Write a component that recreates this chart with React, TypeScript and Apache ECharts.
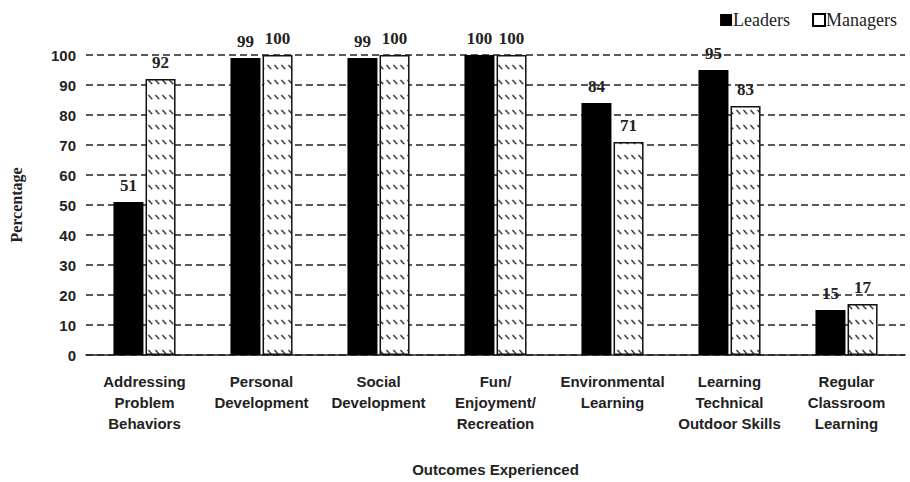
import React, { useEffect, useRef } from "react";
import * as echarts from "echarts";

const categories = [
  "Addressing\nProblem\nBehaviors",
  "Personal\nDevelopment",
  "Social\nDevelopment",
  "Fun/\nEnjoyment/\nRecreation",
  "Environmental\nLearning",
  "Learning\nTechnical\nOutdoor Skills",
  "Regular\nClassroom\nLearning",
];
const leaders = [51, 99, 99, 100, 84, 95, 15];
const managers = [92, 100, 100, 100, 71, 83, 17];
const yTicks = { min: 0, max: 100, interval: 10 };

function makeHatch(): HTMLCanvasElement {
  const s = 3;
  const c = document.createElement("canvas");
  c.width = 7 * s;
  c.height = 15 * s;
  const ctx = c.getContext("2d")!;
  ctx.fillStyle = "#ffffff";
  ctx.fillRect(0, 0, c.width, c.height);
  ctx.strokeStyle = "#222222";
  ctx.lineWidth = 1.3 * s;
  ctx.beginPath();
  ctx.moveTo(1.5 * s, 5 * s);
  ctx.lineTo(5 * s, 9 * s);
  ctx.stroke();
  return c;
}

export default function App() {
  const ref = useRef<HTMLDivElement>(null);
  useEffect(() => {
    if (!ref.current) return;
    const chart = echarts.init(ref.current, null, { renderer: "svg" });
    const hatch = {
      image: makeHatch(),
      repeat: "repeat",
      imageWidth: 7,
      imageHeight: 15,
    } as any;
    const labelStyle = {
      show: true,
      position: "top" as const,
      distance: 8,
      fontFamily: "Liberation Serif",
      fontWeight: "bold" as const,
      fontSize: 17,
      color: "#222",
    };
    chart.setOption({
      animation: false,
      backgroundColor: "#fff",
      grid: { left: 83, right: 5, top: 55, bottom: 126, containLabel: false },
      legend: {
        right: 8,
        top: 6,
        itemWidth: 12,
        itemHeight: 12,
        itemGap: 22,
        textStyle: { fontFamily: "Liberation Serif", fontSize: 18, color: "#222", padding: [0, 0, 0, -4] },
        data: [
          { name: "Leaders", icon: "rect", itemStyle: { color: "#000" } },
          {
            name: "Managers",
            icon: "rect",
            itemStyle: { color: "#fff", borderColor: "#000", borderWidth: 2 },
          },
        ],
      },
      xAxis: {
        type: "category",
        data: categories,
        name: "Outcomes Experienced",
        nameLocation: "middle",
        nameGap: 107,
        nameTextStyle: { fontFamily: "Liberation Sans", fontWeight: "bold", fontSize: 15, color: "#222" },
        axisLine: { show: true, lineStyle: { color: "#222", width: 1.5 } },
        axisTick: { show: false },
        axisLabel: {
          interval: 0,
          margin: 16,
          fontFamily: "Liberation Sans",
          fontWeight: "bold",
          fontSize: 15,
          lineHeight: 21,
          color: "#222",
        },
      },
      yAxis: {
        type: "value",
        min: yTicks.min,
        max: yTicks.max,
        interval: yTicks.interval,
        name: "Percentage",
        nameLocation: "middle",
        nameGap: 62,
        nameTextStyle: { fontFamily: "Liberation Serif", fontWeight: "bold", fontSize: 16, color: "#222" },
        axisLine: { show: false },
        axisTick: { show: false },
        axisLabel: {
          margin: 10,
          fontFamily: "Liberation Sans",
          fontWeight: "bold",
          fontSize: 15,
          color: "#222",
        },
        splitLine: {
          show: true,
          lineStyle: { color: "#222", type: [7, 4], width: 1.5 },
        },
      },
      series: [
        {
          name: "Leaders",
          type: "bar",
          data: leaders,
          barWidth: 30,
          barGap: "7%",
          itemStyle: { color: "#000" },
          label: labelStyle,
        },
        {
          name: "Managers",
          type: "bar",
          data: managers,
          barWidth: 30,
          itemStyle: { color: hatch, borderColor: "#111", borderWidth: 1.5 },
          label: labelStyle,
        },
      ],
    });
    return () => chart.dispose();
  }, []);
  return (
    <div
      ref={ref}
      style={{ position: "fixed", left: 0, top: 0, width: 910, height: 482 }}
    />
  );
}
